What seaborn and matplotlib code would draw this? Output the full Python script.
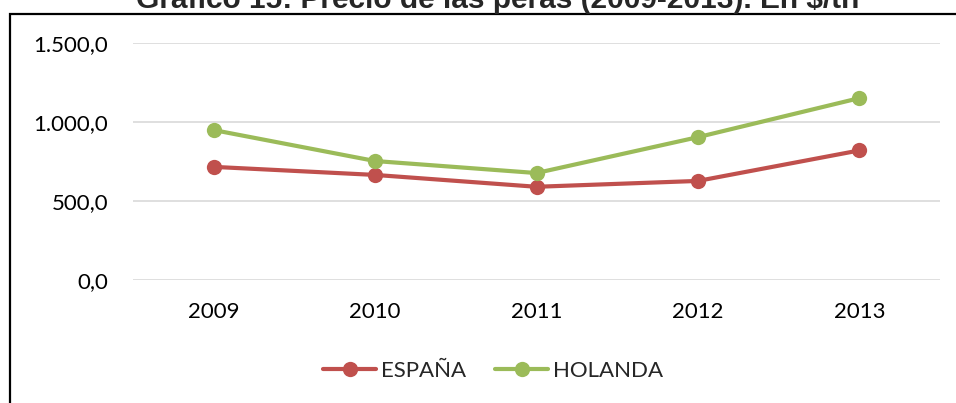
import matplotlib
matplotlib.use("Agg")
import matplotlib.pyplot as plt
import seaborn as sns
import pandas as pd
from matplotlib.ticker import FuncFormatter
from matplotlib.lines import Line2D
from matplotlib.patches import Rectangle

years = ["2009", "2010", "2011", "2012", "2013"]
espana = [716, 665, 590, 627, 820]
holanda = [949, 753, 677, 904, 1151]
series_names = ["ESPAÑA", "HOLANDA"]
colors = ["#C0504D", "#9BBB59"]
title = "Gráfico 15: Precio de las peras (2009-2013). En $/tn"

df = pd.DataFrame({
    "year": years * 2,
    "value": espana + holanda,
    "serie": [series_names[0]] * len(years) + [series_names[1]] * len(years),
})

sns.set_style("white")
plt.rcParams["font.family"] = ["Lato", "DejaVu Sans"]

fig = plt.figure(figsize=(9.56, 4.03), dpi=100)
ax = fig.add_axes([133 / 956, 1 - 280 / 403, (940 - 133) / 956, (280 - 43) / 403])

sns.lineplot(data=df, x="year", y="value", hue="serie", palette=colors,
             marker="o", markersize=11, markeredgewidth=0, linewidth=3,
             sort=False, ax=ax, legend=False)

ax.set_xlim(-0.5, 4.5)
ax.set_ylim(0, 1500)
ax.set_yticks([0, 500, 1000, 1500])


def fmt(v, pos):
    s = f"{v:,.1f}"
    return s.replace(",", "X").replace(".", ",").replace("X", ".")


ax.yaxis.set_major_formatter(FuncFormatter(fmt))
ax.grid(axis="y", color="#D9D9D9", linewidth=1.2)
ax.set_axisbelow(True)
for sp in ax.spines.values():
    sp.set_visible(False)
ax.tick_params(axis="both", length=0, labelsize=16, colors="black")
ax.tick_params(axis="y", pad=18)
ax.tick_params(axis="x", pad=16)
ax.set_xlabel("")
ax.set_ylabel("")

handles = [Line2D([0], [0], color=c, linewidth=3, marker="o", markersize=11,
                  markeredgewidth=0) for c in colors]
fig.legend(handles, series_names, loc="center", bbox_to_anchor=(493 / 956, 1 - 371 / 403),
           ncol=2, frameon=False, fontsize=16, handlelength=2.4, handletextpad=0.2,
           columnspacing=1.3)

fig.text(498 / 956, 1 - 8 / 403, title, ha="center", va="baseline",
         fontsize=21.5, fontweight="bold", family=["Liberation Sans", "DejaVu Sans"])

fig.patches.append(Rectangle((10 / 956, -0.1), 1.2, 1 - 14 / 403 + 0.1,
                             transform=fig.transFigure, fill=False,
                             edgecolor="black", linewidth=1.6, figure=fig))

fig.savefig("out.png", dpi=100)
